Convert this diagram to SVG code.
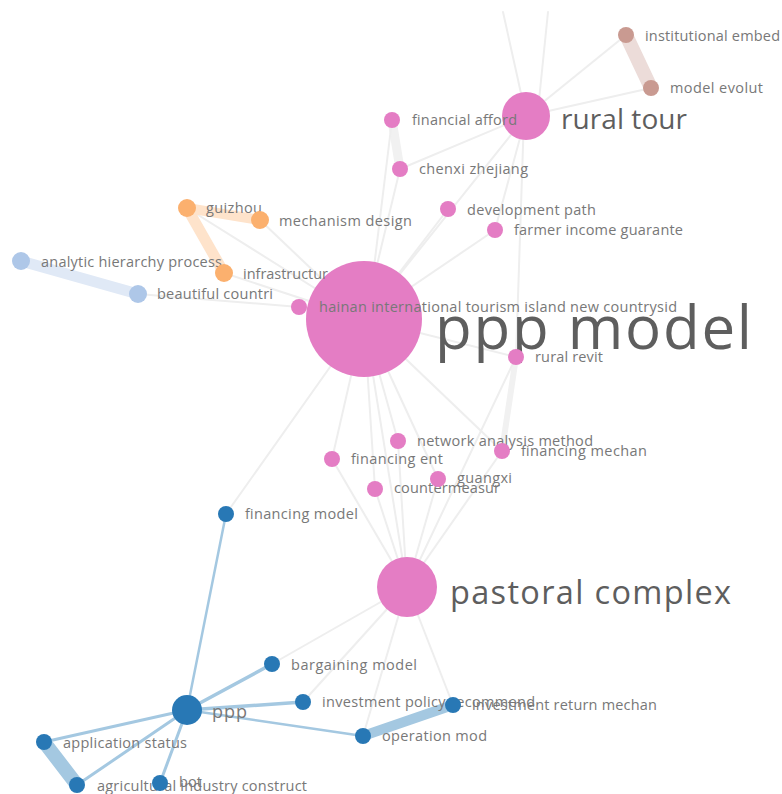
<svg xmlns="http://www.w3.org/2000/svg" width="782" height="794" viewBox="0 0 782 794">
<style>
.e{fill:none;stroke-linecap:round}
.g{stroke:#eeeeee;stroke-width:2}
.gt{stroke:#f1f1f1}
.b{stroke:#a4c8e1}
.o{stroke:#fee3cb}
.lb{stroke:#e0e9f6}
.br{stroke:#ecdcd9}
.pk{fill:#e47dc4}
.bl{fill:#2878b5}
.or{fill:#fbb06e}
.lbn{fill:#aec7e8}
.bn{fill:#c99a91}
text{font-family:"Open Sans","Noto Sans","DejaVu Sans",sans-serif;font-size:14.5px;fill:#787878}
.big{fill:#5e5e5e}
</style>
<rect width="782" height="794" fill="#ffffff"/>
<g id="connectors">
  <line class="e g" x1="503" y1="12" x2="526" y2="116"/>
  <line class="e g" x1="548" y1="12" x2="538" y2="110"/>
  <line class="e g" x1="526" y1="116" x2="626" y2="35"/>
  <line class="e g" x1="526" y1="116" x2="651" y2="88"/>
  <line class="e g" x1="526" y1="116" x2="400" y2="169"/>
  <line class="e g" x1="526" y1="116" x2="364" y2="319"/>
  <line class="e g" x1="526" y1="116" x2="495" y2="230"/>
  <line class="e g" x1="524" y1="116" x2="516" y2="357"/>
  <line class="e gt" stroke-width="9" x1="392" y1="120" x2="400" y2="169"/>
  <line class="e g" x1="392" y1="120" x2="370" y2="300"/>
  <line class="e g" x1="400" y1="169" x2="364" y2="319"/>
  <line class="e g" x1="448" y1="209" x2="364" y2="319"/>
  <line class="e g" x1="495" y1="230" x2="364" y2="319"/>
  <line class="e g" x1="187" y1="208" x2="364" y2="319"/>
  <line class="e g" x1="260" y1="220" x2="364" y2="319"/>
  <line class="e g" x1="224" y1="273" x2="364" y2="319"/>
  <line class="e g" x1="138" y1="294" x2="299" y2="307"/>
  <line class="e g" x1="299" y1="307" x2="364" y2="319"/>
  <line class="e g" x1="364" y1="319" x2="516" y2="357"/>
  <line class="e gt" stroke-width="6" x1="516" y1="357" x2="502" y2="451"/>
  <line class="e g" x1="364" y1="319" x2="502" y2="451"/>
  <line class="e g" x1="364" y1="319" x2="398" y2="441"/>
  <line class="e g" x1="364" y1="319" x2="332" y2="459"/>
  <line class="e g" x1="364" y1="319" x2="375" y2="489"/>
  <line class="e g" x1="364" y1="319" x2="438" y2="479"/>
  <line class="e g" x1="364" y1="319" x2="407" y2="587"/>
  <line class="e g" x1="364" y1="319" x2="226" y2="514"/>
  <line class="e g" x1="332" y1="459" x2="407" y2="587"/>
  <line class="e g" x1="375" y1="489" x2="407" y2="587"/>
  <line class="e g" x1="398" y1="441" x2="407" y2="587"/>
  <line class="e g" x1="438" y1="479" x2="407" y2="587"/>
  <line class="e g" x1="502" y1="451" x2="407" y2="587"/>
  <line class="e g" x1="516" y1="357" x2="407" y2="587"/>
  <line class="e g" x1="407" y1="587" x2="272" y2="664"/>
  <line class="e g" x1="407" y1="587" x2="303" y2="702"/>
  <line class="e g" x1="407" y1="587" x2="363" y2="736"/>
  <line class="e g" x1="407" y1="587" x2="453" y2="705"/>
  <line class="e br" stroke-width="14" x1="626" y1="35" x2="651" y2="88"/>
  <line class="e o" stroke-width="10" x1="187" y1="208" x2="260" y2="220"/>
  <line class="e o" stroke-width="11" x1="187" y1="208" x2="224" y2="273"/>
  <line class="e lb" stroke-width="11" x1="21" y1="261" x2="138" y2="294"/>
  <line class="e b" stroke-width="2.5" x1="187" y1="710" x2="226" y2="514"/>
  <line class="e b" stroke-width="3.5" x1="187" y1="710" x2="272" y2="664"/>
  <line class="e b" stroke-width="3.5" x1="187" y1="710" x2="303" y2="702"/>
  <line class="e b" stroke-width="2.5" x1="187" y1="710" x2="363" y2="736"/>
  <line class="e b" stroke-width="3" x1="187" y1="710" x2="44" y2="742"/>
  <line class="e b" stroke-width="3" x1="187" y1="710" x2="77" y2="785"/>
  <line class="e b" stroke-width="3" x1="187" y1="710" x2="160" y2="783"/>
  <line class="e b" stroke-width="14" x1="44" y1="742" x2="77" y2="785"/>
  <line class="e b" stroke-width="10" x1="363" y1="736" x2="453" y2="705"/>
</g>
<g id="node-ppp-model"><circle class="pk" cx="364" cy="319" r="58"/><text class="big" x="435" y="349" style="font-size:60px" textLength="317">ppp model</text></g>
<g id="node-rural-tour"><circle class="pk" cx="526" cy="116" r="24"/><text class="big" x="561" y="129" style="font-size:28px" textLength="126">rural tour</text></g>
<g id="node-pastoral-complex"><circle class="pk" cx="407" cy="587" r="30"/><text class="big" x="450" y="604" style="font-size:32.5px" textLength="281">pastoral complex</text></g>
<g id="node-institutional-embed"><circle class="bn" cx="626" cy="35" r="8"/><text x="645" y="41" textLength="135">institutional embed</text></g>
<g id="node-model-evolut"><circle class="bn" cx="651" cy="88" r="8"/><text x="670" y="93" textLength="93">model evolut</text></g>
<g id="node-financial-afford"><circle class="pk" cx="392" cy="120" r="8"/><text x="412" y="125" textLength="105">financial afford</text></g>
<g id="node-chenxi-zhejiang"><circle class="pk" cx="400" cy="169" r="8"/><text x="419" y="174" textLength="109">chenxi zhejiang</text></g>
<g id="node-development-path"><circle class="pk" cx="448" cy="209" r="8"/><text x="467" y="215" textLength="129">development path</text></g>
<g id="node-farmer-income"><circle class="pk" cx="495" cy="230" r="8"/><text x="514" y="235" textLength="169">farmer income guarante</text></g>
<g id="node-guizhou"><circle class="or" cx="187" cy="208" r="9"/><text x="206" y="213" textLength="56">guizhou</text></g>
<g id="node-mechanism-design"><circle class="or" cx="260" cy="220" r="9"/><text x="279" y="226" textLength="133">mechanism design</text></g>
<g id="node-analytic-hierarchy"><circle class="lbn" cx="21" cy="261" r="9"/><text x="41" y="267" textLength="181">analytic hierarchy process</text></g>
<g id="node-infrastructur"><circle class="or" cx="224" cy="273" r="9"/><text x="243" y="279" textLength="85">infrastructur</text></g>
<g id="node-beautiful-countri"><circle class="lbn" cx="138" cy="294" r="9"/><text x="157" y="299" textLength="116">beautiful countri</text></g>
<g id="node-hainan"><circle class="pk" cx="299" cy="307" r="8"/><text x="319" y="312" textLength="358">hainan international tourism island new countrysid</text></g>
<g id="node-rural-revit"><circle class="pk" cx="516" cy="357" r="8"/><text x="535" y="362" textLength="68">rural revit</text></g>
<g id="node-network-analysis"><circle class="pk" cx="398" cy="441" r="8"/><text x="417" y="446" textLength="176">network analysis method</text></g>
<g id="node-financing-ent"><circle class="pk" cx="332" cy="459" r="8"/><text x="351" y="464" textLength="92">financing ent</text></g>
<g id="node-countermeasur"><circle class="pk" cx="375" cy="489" r="8"/><text x="394" y="493" textLength="106">countermeasur</text></g>
<g id="node-guangxi"><circle class="pk" cx="438" cy="479" r="8"/><text x="457" y="483" textLength="55">guangxi</text></g>
<g id="node-financing-mechan"><circle class="pk" cx="502" cy="451" r="8"/><text x="521" y="456" textLength="126">financing mechan</text></g>
<g id="node-financing-model"><circle class="bl" cx="226" cy="514" r="8"/><text x="245" y="519" textLength="113">financing model</text></g>
<g id="node-bargaining-model"><circle class="bl" cx="272" cy="664" r="8"/><text x="291" y="670" textLength="126">bargaining model</text></g>
<g id="node-investment-policy"><circle class="bl" cx="303" cy="702" r="8"/><text x="322" y="707" textLength="213">investment policy recommend</text></g>
<g id="node-investment-return"><circle class="bl" cx="453" cy="705" r="8"/><text x="472" y="710" textLength="185">investment return mechan</text></g>
<g id="node-operation-mod"><circle class="bl" cx="363" cy="736" r="8"/><text x="382" y="741" textLength="105">operation mod</text></g>
<g id="node-ppp"><circle class="bl" cx="187" cy="710" r="15"/><text x="212" y="718" style="font-size:18px" textLength="35">ppp</text></g>
<g id="node-application-status"><circle class="bl" cx="44" cy="742" r="8"/><text x="63" y="748" textLength="124">application status</text></g>
<g id="node-agricultural-industry"><circle class="bl" cx="77" cy="785" r="8"/><text x="97" y="791" textLength="210">agricultural industry construct</text></g>
<g id="node-bot"><circle class="bl" cx="160" cy="783" r="8"/><text x="179" y="787" textLength="23">bot</text></g>
</svg>
